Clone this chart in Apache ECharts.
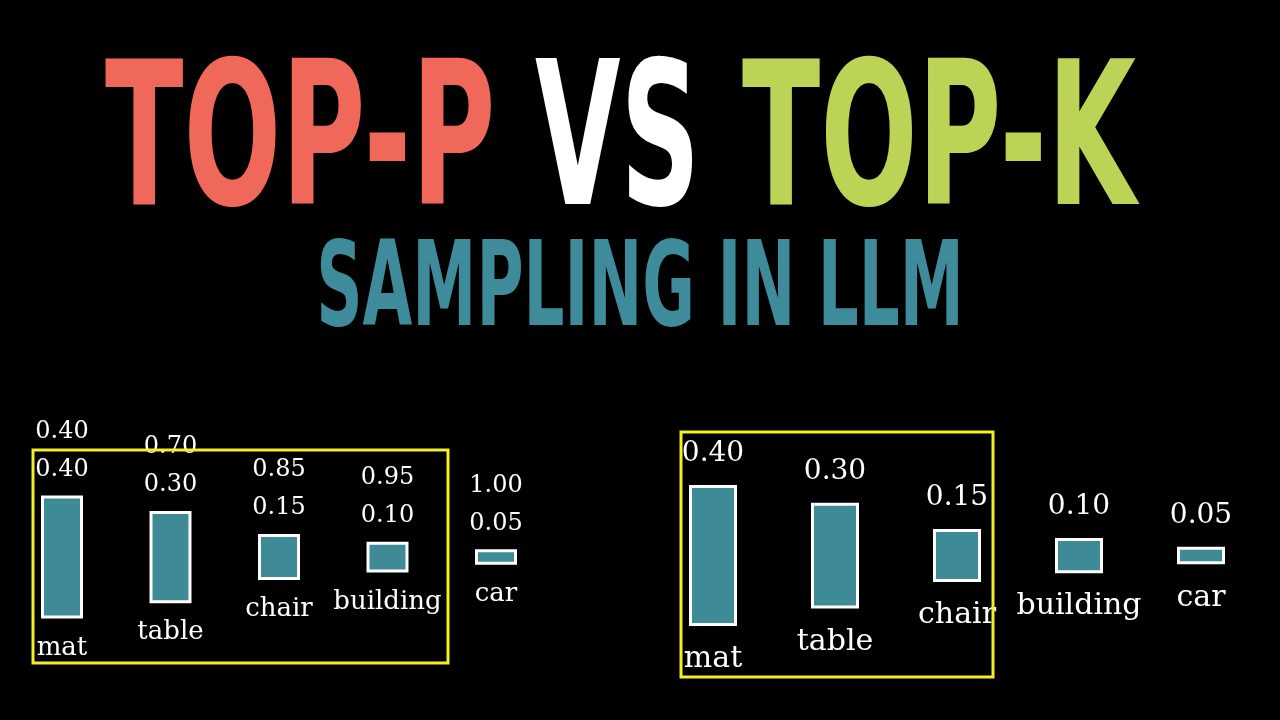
<!DOCTYPE html>
<html>
<head>
<meta charset="utf-8">
<title>Top-P vs Top-K sampling</title>
<script src="https://cdn.jsdelivr.net/npm/echarts@6/dist/echarts.min.js"></script>
<style>
	html, body { margin: 0; padding: 0; background: #000; }
	#chart { width: 1280px; height: 720px; }
</style>
</head>
<body>
<div id="chart"></div>
<script>
// data
const words = ["mat", "table", "chair", "building", "car"];
const probs = [0.40, 0.30, 0.15, 0.10, 0.05];
const cumulative = [0.40, 0.70, 0.85, 0.95, 1.00];

const TEAL = "#3e8a97";
const YELLOW = "#f2ee2c";
const SERIF = "DejaVu Serif";

// bars are centred vertically, so push each one up by half of what it lacks
const maxProb = Math.max(...probs);
const offsets = probs.map(p => (maxProb - p) / 2);

const chart = echarts.init(document.getElementById("chart"));

// one panel = spacer bar + visible bar + word labels under the bar
function panel(idx, opt) {
	const stack = "s" + idx;
	return [
		{
			type: "bar",
			xAxisIndex: idx,
			yAxisIndex: idx,
			stack: stack,
			data: offsets,
			barWidth: opt.barWidth,
			silent: true,
			itemStyle: { color: "transparent" }
		},
		{
			type: "bar",
			xAxisIndex: idx,
			yAxisIndex: idx,
			stack: stack,
			data: probs,
			barWidth: opt.barWidth,
			itemStyle: { color: TEAL, borderColor: "#fff", borderWidth: 3 },
			label: {
				show: true,
				position: "top",
				distance: opt.topDist,
				color: "#fff",
				fontFamily: SERIF,
				fontSize: opt.numSize,
				lineHeight: opt.lineHeight,
				formatter: p => opt.showCum
					? cumulative[p.dataIndex].toFixed(2) + "\n" + probs[p.dataIndex].toFixed(2)
					: probs[p.dataIndex].toFixed(2)
			}
		},
		{
			type: "scatter",
			xAxisIndex: idx,
			yAxisIndex: idx,
			data: offsets,
			symbolSize: 1,
			silent: true,
			itemStyle: { color: "transparent", opacity: 1 },
			label: {
				show: true,
				position: "bottom",
				distance: opt.bottomDist,
				color: "#fff",
				fontFamily: SERIF,
				fontSize: opt.wordSize,
				formatter: p => words[p.dataIndex]
			}
		}
	];
}

const hiddenCat = { type: "category", data: words, show: false };
const hiddenVal = { type: "value", min: 0, max: maxProb, show: false };

const option = {
	backgroundColor: "#000",
	animation: false,
	grid: [
		{ left: 7.75, width: 542.5, top: 495.5, height: 123 },
		{ left: 652, width: 610, top: 485, height: 141 }
	],
	xAxis: [
		Object.assign({ gridIndex: 0 }, hiddenCat),
		Object.assign({ gridIndex: 1 }, hiddenCat)
	],
	yAxis: [
		Object.assign({ gridIndex: 0 }, hiddenVal),
		Object.assign({ gridIndex: 1 }, hiddenVal)
	],
	series: [
		...panel(0, { barWidth: 42, topDist: 7, numSize: 24, lineHeight: 38, wordSize: 26, bottomDist: 16, showCum: true }),
		...panel(1, { barWidth: 48, topDist: 14, numSize: 28, lineHeight: 34, wordSize: 30, bottomDist: 18, showCum: false })
	],
	graphic: [
		// title, squeezed to look like a condensed display face
		{ type: "text", x: 105, y: 152, scaleX: 0.575, style: { text: "TOP-P", fill: "#f0685a", fontSize: 200, fontWeight: "bold", fontFamily: "DejaVu Sans", align: "left", verticalAlign: "middle" } },
		{ type: "text", x: 535, y: 152, scaleX: 0.553, style: { text: "VS", fill: "#ffffff", fontSize: 200, fontWeight: "bold", fontFamily: "DejaVu Sans", align: "left", verticalAlign: "middle" } },
		{ type: "text", x: 742, y: 152, scaleX: 0.573, style: { text: "TOP-K", fill: "#bcd455", fontSize: 200, fontWeight: "bold", fontFamily: "DejaVu Sans", align: "left", verticalAlign: "middle" } },
		{ type: "text", x: 640, y: 295, scaleX: 0.55, style: { text: "SAMPLING IN LLM", fill: "#3e8b9b", fontSize: 117, fontWeight: "bold", fontFamily: "DejaVu Sans", align: "center", verticalAlign: "middle" } },
		// top-p / top-k selection boxes
		{ type: "rect", z: 100, shape: { x: 33, y: 450, width: 415, height: 213 }, style: { fill: null, stroke: YELLOW, lineWidth: 3 } },
		{ type: "rect", z: 100, shape: { x: 681, y: 432, width: 312, height: 245 }, style: { fill: null, stroke: YELLOW, lineWidth: 3 } }
	]
};

chart.setOption(option);
</script>
</body>
</html>
